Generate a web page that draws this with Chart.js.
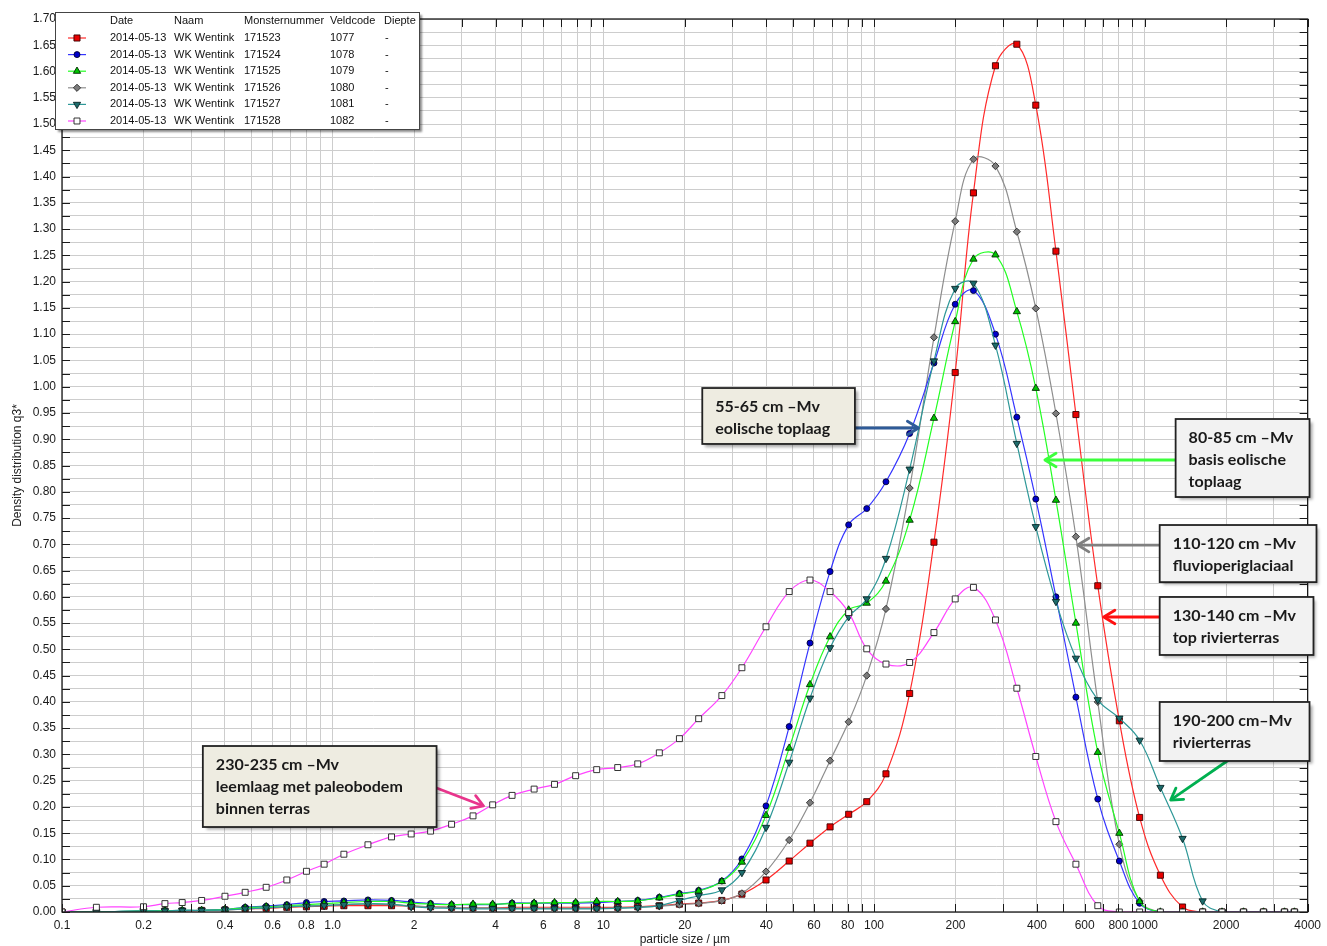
<!DOCTYPE html>
<html><head><meta charset="utf-8">
<script src="https://cdn.jsdelivr.net/npm/chart.js"></script>
<style>html,body{margin:0;padding:0;background:#fff;}#wrap{width:1327px;height:946px;position:relative;}</style>
</head><body><div id="wrap"><canvas id="c" width="1327" height="946"></canvas></div>
<script>
// particle size classes (µm)
const sizes = [0.1, 0.134, 0.2, 0.24, 0.278, 0.328, 0.4, 0.475, 0.568, 0.677,
  0.8, 0.93, 1.1, 1.35, 1.65, 1.95, 2.3, 2.75, 3.3, 3.9,
  4.6, 5.55, 6.6, 7.9, 9.45, 11.3, 13.4, 16.1, 19.1, 22.5,
  27.4, 32.5, 39.9, 48.6, 58, 68.8, 80.6, 94, 110.7, 135.4,
  166.5, 199.5, 233, 281, 337, 396, 470, 557, 671, 806,
  958, 1143, 1380, 1637, 1930, 2318, 2748, 3285, 3575];

const q171523 = [0, 0, 0.001, 0.002, 0.002, 0.003, 0.004, 0.006, 0.007, 0.009,
  0.010, 0.011, 0.012, 0.012, 0.012, 0.011, 0.010, 0.009, 0.008, 0.008,
  0.009, 0.009, 0.009, 0.009, 0.009, 0.009, 0.010, 0.012, 0.015, 0.017,
  0.022, 0.034, 0.061, 0.097, 0.131, 0.162, 0.186, 0.210, 0.263, 0.416,
  0.704, 1.027, 1.369, 1.611, 1.652, 1.536, 1.258, 0.947, 0.621, 0.364,
  0.180, 0.070, 0.0095, 0, 0, 0, 0, 0, 0];
const q171524 = [0, 0, 0.002, 0.0025, 0.003, 0.003, 0.005, 0.009, 0.011, 0.014,
  0.018, 0.020, 0.021, 0.023, 0.022, 0.019, 0.016, 0.014, 0.014, 0.014,
  0.017, 0.017, 0.017, 0.017, 0.018, 0.020, 0.022, 0.028, 0.035, 0.041,
  0.059, 0.101, 0.202, 0.353, 0.512, 0.648, 0.737, 0.768, 0.819, 0.911,
  1.045, 1.157, 1.183, 1.100, 0.942, 0.786, 0.600, 0.409, 0.215, 0.097,
  0.0165, 0, 0, 0, 0, 0, 0, 0, 0];
const q171525 = [0, 0, 0.002, 0.0025, 0.003, 0.003, 0.005, 0.008, 0.010, 0.012,
  0.014, 0.016, 0.018, 0.020, 0.020, 0.0165, 0.015, 0.014, 0.015, 0.015,
  0.016, 0.017, 0.018, 0.018, 0.020, 0.020, 0.021, 0.027, 0.034, 0.040,
  0.058, 0.095, 0.184, 0.312, 0.433, 0.524, 0.575, 0.588, 0.630, 0.746,
  0.940, 1.124, 1.243, 1.251, 1.143, 0.997, 0.784, 0.550, 0.304, 0.150,
  0.020, 0, 0, 0, 0, 0, 0, 0, 0];
const q171526 = [0, 0, 0.001, 0.002, 0.002, 0.003, 0.004, 0.006, 0.008, 0.010,
  0.012, 0.013, 0.014, 0.015, 0.014, 0.012, 0.010, 0.009, 0.008, 0.008,
  0.007, 0.007, 0.007, 0.007, 0.007, 0.008, 0.009, 0.011, 0.014, 0.0165,
  0.0215, 0.0355, 0.077, 0.137, 0.208, 0.288, 0.362, 0.450, 0.577, 0.807,
  1.094, 1.315, 1.433, 1.420, 1.295, 1.149, 0.949, 0.7145, 0.400, 0.129,
  0.021, 0, 0, 0, 0, 0, 0, 0, 0];
const q171527 = [0, 0, 0.002, 0.002, 0.003, 0.003, 0.004, 0.006, 0.008, 0.010,
  0.011, 0.012, 0.014, 0.016, 0.015, 0.010, 0.008, 0.007, 0.006, 0.006,
  0.006, 0.006, 0.006, 0.006, 0.006, 0.007, 0.0085, 0.012, 0.022, 0.031,
  0.042, 0.075, 0.161, 0.285, 0.407, 0.503, 0.562, 0.596, 0.673, 0.843,
  1.049, 1.187, 1.197, 1.079, 0.892, 0.7335, 0.591, 0.483, 0.404, 0.369,
  0.327, 0.237, 0.140, 0.021, 0, 0, 0, 0, 0];
const q171528 = [0, 0.009, 0.010, 0.016, 0.018, 0.022, 0.030, 0.0375, 0.047, 0.061,
  0.0775, 0.091, 0.110, 0.128, 0.143, 0.1485, 0.154, 0.167, 0.183, 0.204,
  0.222, 0.234, 0.243, 0.2595, 0.271, 0.275, 0.282, 0.303, 0.330, 0.368,
  0.412, 0.465, 0.543, 0.610, 0.632, 0.610, 0.570, 0.501, 0.472, 0.475,
  0.532, 0.596, 0.618, 0.556, 0.426, 0.296, 0.172, 0.091, 0.012, 0,
  0, 0, 0, 0, 0, 0, 0, 0, 0];

// legend table columns
const legendHeader = ['Date', 'Naam', 'Monsternummer', 'Veldcode', 'Diepte'];
const legendDates = ['2014-05-13', '2014-05-13', '2014-05-13', '2014-05-13', '2014-05-13', '2014-05-13'];
const legendNames = ['WK Wentink', 'WK Wentink', 'WK Wentink', 'WK Wentink', 'WK Wentink', 'WK Wentink'];
const legendSamples = ['171523', '171524', '171525', '171526', '171527', '171528'];
const legendCodes = ['1077', '1078', '1079', '1080', '1081', '1082'];
const legendDepths = ['-', '-', '-', '-', '-', '-'];

// axis ticks
const xTickLabels = ['0.1','0.2','0.4','0.6','0.8','1.0','2','4','6','8','10','20','40','60','80','100','200','400','600','800','1000','2000','4000'];
const xMin = 0.1, xMax = 4000;
const yMin = 0, yMax = 1.7, yStep = 0.025, yLabelStep = 0.05;
const xTitle = 'particle size / µm';
const yTitle = 'Density distribution q3*';

// annotation texts
const noteTexts = [
  ['55-65 cm –Mv', 'eolische toplaag'],
  ['80-85 cm –Mv', 'basis eolische', 'toplaag'],
  ['110-120 cm –Mv', 'fluvioperiglaciaal'],
  ['130-140 cm –Mv', 'top rivierterras'],
  ['190-200 cm–Mv', 'rivierterras'],
  ['230-235 cm –Mv', 'leemlaag met paleobodem', 'binnen terras']
];

const seriesValues = [q171523, q171524, q171525, q171526, q171527, q171528];
const styles = [
  {line:'#ff2a2a', fill:'#e80000', edge:'#3a0000', shape:'rect', r:4.3, rot:0, order:5},
  {line:'#3535ff', fill:'#0000c8', edge:'#000033', shape:'circle', r:3.0, rot:0, order:3},
  {line:'#22ff22', fill:'#00c400', edge:'#002a00', shape:'triangle', r:4.2, rot:0, order:2},
  {line:'#8e8e8e', fill:'#7c7c7c', edge:'#2a2a2a', shape:'rectRot', r:3.6, rot:0, order:4},
  {line:'#2e9898', fill:'#1d6c6c', edge:'#062424', shape:'triangle', r:4.2, rot:180, order:1},
  {line:'#ff45ff', fill:'#ffffff', edge:'#1e1e1e', shape:'rect', r:4.2, rot:0, order:0}
];

// grid values of the log axis
const xGrid = [];
for (let e = -1; e <= 3; e++) {
  for (let d = 1; d <= 9; d++) {
    const v = Number((d * Math.pow(10, e)).toPrecision(6));
    if (v >= xMin && v <= xMax) xGrid.push(v);
  }
}
const xLabelVals = xTickLabels.map(parseFloat);
const yGrid = [];
for (let i = 0; i <= Math.round((yMax - yMin) / yStep); i++) yGrid.push(Number((yMin + i * yStep).toFixed(4)));

const datasets = seriesValues.map((vals, i) => ({
  label: legendSamples[i],
  data: sizes.map((s, j) => ({x: s, y: vals[j]})),
  borderColor: styles[i].line,
  backgroundColor: styles[i].fill,
  borderWidth: 1.2,
  pointStyle: styles[i].shape,
  pointRadius: styles[i].r,
  pointRotation: styles[i].rot,
  pointBackgroundColor: styles[i].fill,
  pointBorderColor: styles[i].edge,
  pointBorderWidth: 0.9,
  tension: 0.4,
  fill: false,
  order: styles[i].order
}));

function drawMarker(ctx, shape, x, y, r, rot, fill, edge, bw) {
  ctx.save();
  ctx.translate(x, y);
  ctx.rotate(rot * Math.PI / 180);
  ctx.beginPath();
  if (shape === 'circle') ctx.arc(0, 0, r, 0, Math.PI * 2);
  else if (shape === 'rect') { const s = r * Math.SQRT1_2; ctx.rect(-s, -s, 2 * s, 2 * s); }
  else if (shape === 'rectRot') { ctx.moveTo(0, -r); ctx.lineTo(r, 0); ctx.lineTo(0, r); ctx.lineTo(-r, 0); ctx.closePath(); }
  else if (shape === 'triangle') {
    for (let k = 0; k < 3; k++) {
      const a = k * 2 * Math.PI / 3;
      const px = Math.sin(a) * r, py = -Math.cos(a) * r;
      if (k === 0) ctx.moveTo(px, py); else ctx.lineTo(px, py);
    }
    ctx.closePath();
  }
  ctx.fillStyle = fill; ctx.fill();
  ctx.lineWidth = bw; ctx.strokeStyle = edge; ctx.stroke();
  ctx.restore();
}

// annotation geometry in data coordinates: box [xLeft, yTop, xRight, yBottom], arrow [x1,y1,x2,y2]
const notes = [
  {text: 0, box: [23.2, 0.9975, 85.0, 0.891], fill: '#eeece1', arrow: [85.0, 0.9214, 146, 0.9214], color: '#2f5b98'},
  {text: 1, box: [1301, 0.9385, 4064, 0.790], fill: '#f2f2f2', arrow: [1301, 0.8605, 428, 0.8605], color: '#3cff3c'},
  {text: 2, box: [1136, 0.7367, 4312, 0.628], fill: '#f2f2f2', arrow: [1136, 0.6986, 566, 0.6986], color: '#808080'},
  {text: 3, box: [1136, 0.5997, 4203, 0.4893], fill: '#f2f2f2', arrow: [1136, 0.5616, 706, 0.5616], color: '#ff1010'},
  {text: 4, box: [1136, 0.3998, 4064, 0.2875], fill: '#f2f2f2', arrow: [2042, 0.2894, 1247, 0.2132], color: '#00b050'},
  {text: 5, box: [0.3314, 0.316, 2.42, 0.1618], fill: '#eeece1', arrow: [2.42, 0.2361, 3.61, 0.2018], color: '#e8358c'}
];

function drawArrow(ctx, x1, y1, x2, y2, color) {
  const ang = Math.atan2(y2 - y1, x2 - x1);
  ctx.save();
  ctx.strokeStyle = color; ctx.lineWidth = 2.8; ctx.lineCap = 'round'; ctx.lineJoin = 'round';
  ctx.beginPath(); ctx.moveTo(x1, y1); ctx.lineTo(x2 - Math.cos(ang) * 1.5, y2 - Math.sin(ang) * 1.5); ctx.stroke();
  const L = 13, A = 0.55;
  ctx.beginPath();
  ctx.moveTo(x2 - L * Math.cos(ang - A), y2 - L * Math.sin(ang - A));
  ctx.lineTo(x2, y2);
  ctx.lineTo(x2 - L * Math.cos(ang + A), y2 - L * Math.sin(ang + A));
  ctx.stroke();
  ctx.restore();
}

const overlay = {
  id: 'overlay',
  afterDatasetsDraw(chart) {
    const ctx = chart.ctx, a = chart.chartArea, xs = chart.scales.x, ys = chart.scales.y;
    ctx.save();
    ctx.strokeStyle = '#1a1a1a'; ctx.lineWidth = 1;
    ctx.beginPath();
    xGrid.forEach(v => {
      const px = Math.round(xs.getPixelForValue(v)) + 0.5;
      ctx.moveTo(px, a.bottom); ctx.lineTo(px, a.bottom - 8);
      ctx.moveTo(px, a.top); ctx.lineTo(px, a.top + 8);
    });
    yGrid.forEach(v => {
      const py = Math.round(ys.getPixelForValue(v)) + 0.5;
      ctx.moveTo(a.left, py); ctx.lineTo(a.left + 8, py);
      ctx.moveTo(a.right, py); ctx.lineTo(a.right - 8, py);
    });
    ctx.stroke();
    ctx.lineWidth = 1.3;
    ctx.strokeRect(a.left, a.top, a.right - a.left, a.bottom - a.top);
    ctx.restore();
  },
  afterDraw(chart) {
    const ctx = chart.ctx, a = chart.chartArea, xs = chart.scales.x, ys = chart.scales.y;
    // legend table
    const lx = a.left - 7, ly = a.top - 7, lw = 364, lh = 117;
    ctx.save();
    ctx.shadowColor = 'rgba(0,0,0,0.45)'; ctx.shadowOffsetX = 3; ctx.shadowOffsetY = 3; ctx.shadowBlur = 2;
    ctx.fillStyle = '#ffffff'; ctx.fillRect(lx, ly, lw, lh);
    ctx.restore();
    ctx.save();
    ctx.strokeStyle = '#444'; ctx.lineWidth = 1; ctx.strokeRect(lx + 0.5, ly + 0.5, lw, lh);
    ctx.font = '11px "Liberation Sans", Arial, sans-serif'; ctx.fillStyle = '#111'; ctx.textBaseline = 'middle'; ctx.textAlign = 'left';
    const cols = [55, 119, 189, 275, 329];
    legendHeader.forEach((h, k) => ctx.fillText(h, lx + cols[k], ly + 9));
    for (let i = 0; i < datasets.length; i++) {
      const ry = ly + 26 + i * 16.6;
      const st = styles[i];
      ctx.strokeStyle = st.line; ctx.lineWidth = 1.2;
      ctx.beginPath(); ctx.moveTo(lx + 13, ry); ctx.lineTo(lx + 31, ry); ctx.stroke();
      drawMarker(ctx, st.shape, lx + 22, ry, st.r, st.rot, st.fill, st.edge, 0.9);
      ctx.fillStyle = '#111';
      const row = [legendDates[i], legendNames[i], legendSamples[i], legendCodes[i], legendDepths[i]];
      row.forEach((t, k) => ctx.fillText(t, lx + cols[k] + (k === 4 ? 1 : 0), ry));
    }
    ctx.restore();
    // annotation boxes
    notes.forEach(n => {
      const x0 = xs.getPixelForValue(n.box[0]), y0 = ys.getPixelForValue(n.box[1]);
      const x1 = xs.getPixelForValue(n.box[2]), y1 = ys.getPixelForValue(n.box[3]);
      drawArrow(ctx, xs.getPixelForValue(n.arrow[0]), ys.getPixelForValue(n.arrow[1]),
        xs.getPixelForValue(n.arrow[2]), ys.getPixelForValue(n.arrow[3]), n.color);
      ctx.save();
      ctx.shadowColor = 'rgba(0,0,0,0.35)'; ctx.shadowOffsetX = 3; ctx.shadowOffsetY = 3; ctx.shadowBlur = 3;
      ctx.fillStyle = n.fill; ctx.fillRect(x0, y0, x1 - x0, y1 - y0);
      ctx.restore();
      ctx.save();
      ctx.strokeStyle = '#222'; ctx.lineWidth = 1.8; ctx.strokeRect(x0, y0, x1 - x0, y1 - y0);
      ctx.font = 'bold 16px Lato, "Open Sans", sans-serif'; ctx.fillStyle = '#1a1a1a';
      ctx.textBaseline = 'middle'; ctx.textAlign = 'left';
      noteTexts[n.text].forEach((t, k) => ctx.fillText(t, x0 + 13, y0 + 19 + k * 22));
      ctx.restore();
    });
  }
};

new Chart(document.getElementById('c'), {
  type: 'line',
  data: {datasets},
  plugins: [overlay],
  options: {
    responsive: false,
    animation: false,
    events: [],
    layout: {padding: {top: 19, right: 17, bottom: 0, left: 0}},
    plugins: {legend: {display: false}, tooltip: {enabled: false}},
    scales: {
      x: {
        type: 'logarithmic', min: xMin, max: xMax,
        afterBuildTicks: s => { s.ticks = xGrid.map(v => ({value: v})); },
        afterFit: s => { s.height = 34; },
        grid: {color: '#cdcdcd', lineWidth: 1, drawTicks: false},
        border: {display: false},
        ticks: {
          autoSkip: false, maxRotation: 0, minRotation: 0, padding: 6,
          color: '#1a1a1a', font: {family: '"Liberation Sans", Arial, sans-serif', size: 12},
          callback: v => { const k = xLabelVals.findIndex(t => Math.abs(t - v) < 1e-9 * Math.max(1, t)); return k >= 0 ? xTickLabels[k] : ''; }
        },
        title: {display: true, text: xTitle, color: '#222', padding: 0,
          font: {family: '"Liberation Sans", Arial, sans-serif', size: 12, lineHeight: 1}}
      },
      y: {
        type: 'linear', min: yMin, max: yMax,
        afterBuildTicks: s => { s.ticks = yGrid.map(v => ({value: v})); },
        afterFit: s => { s.width = 62; },
        grid: {color: '#cdcdcd', lineWidth: 1, drawTicks: false},
        border: {display: false},
        ticks: {
          autoSkip: false, padding: 6, color: '#1a1a1a',
          font: {family: '"Liberation Sans", Arial, sans-serif', size: 12},
          callback: v => { const r = v / yLabelStep; return Math.abs(r - Math.round(r)) < 1e-6 ? v.toFixed(2) : ''; }
        },
        title: {display: true, text: yTitle, color: '#222', padding: {top: 10, bottom: 0},
          font: {family: '"Liberation Sans", Arial, sans-serif', size: 12}}
      }
    }
  }
});
</script></body></html>
